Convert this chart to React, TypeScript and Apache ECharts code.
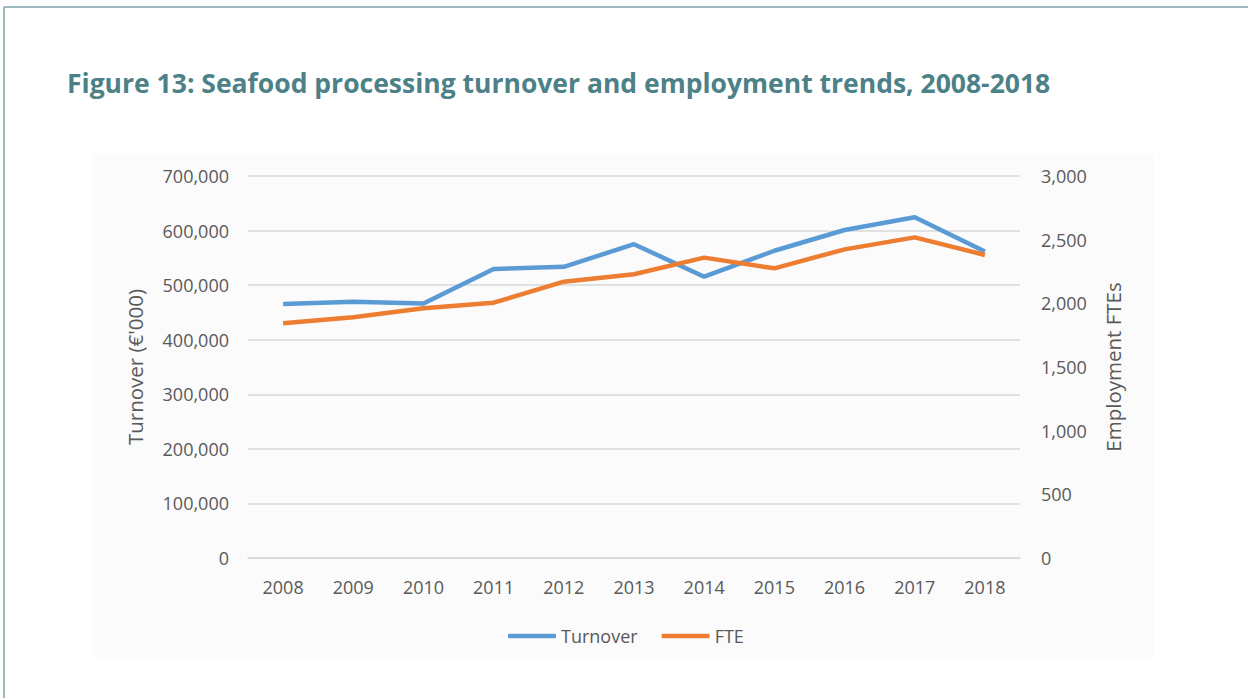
import React, { useEffect, useRef } from "react";
import * as echarts from "echarts";

const years = ["2008", "2009", "2010", "2011", "2012", "2013", "2014", "2015", "2016", "2017", "2018"];
const turnover = [465500, 469500, 466500, 529500, 533500, 575000, 515500, 563000, 601000, 624500, 561500];
const fte = [1843, 1890, 1961, 2005, 2170, 2228, 2359, 2275, 2424, 2518, 2380];

const TITLE = "Figure 13: Seafood processing turnover and employment trends, 2008-2018";
const fmt = (v: number) => v.toLocaleString("en-US");

export default function App() {
  const ref = useRef<HTMLDivElement>(null);
  useEffect(() => {
    const chart = echarts.init(ref.current!, null, { renderer: "svg" });
    const labelStyle = { color: "#595959", fontSize: 18, fontFamily: "Open Sans" };
    chart.setOption({
      animation: false,
      backgroundColor: "#ffffff",
      graphic: [
        { type: "rect", shape: { x: 92, y: 153, width: 1061, height: 504 }, style: { fill: "#fbfbfb" }, z: -10 },
        { type: "line", shape: { x1: 4, y1: 7, x2: 1248, y2: 7 }, style: { stroke: "#7fa3a6", lineWidth: 1.5 } },
        { type: "line", shape: { x1: 4, y1: 7, x2: 4, y2: 698 }, style: { stroke: "#7fa3a6", lineWidth: 1.5 } },
      ],
      title: {
        text: TITLE,
        left: 62,
        top: 64,
        textStyle: { color: "#4b8187", fontSize: 26.5, fontWeight: "bold", fontFamily: "Open Sans" },
      },
      grid: { left: 248, right: 228, top: 176, bottom: 140 },
      legend: {
        left: 503,
        top: 622,
        itemWidth: 48,
        itemHeight: 4.5,
        itemGap: 24,
        icon: "roundRect",
        textStyle: { color: "#595959", fontSize: 18, fontFamily: "Open Sans" },
        data: ["Turnover", "FTE"],
      },
      xAxis: {
        type: "category",
        data: years,
        boundaryGap: true,
        axisLine: { show: true, lineStyle: { color: "#d9d9d9", width: 1.5 } },
        axisTick: { show: false },
        axisLabel: { ...labelStyle, margin: 20 },
      },
      yAxis: [
        {
          type: "value",
          min: 0,
          max: 700000,
          interval: 100000,
          name: "Turnover (€'000)",
          nameLocation: "middle",
          nameGap: 103,
          nameTextStyle: { color: "#595959", fontSize: 20.5, fontFamily: "Open Sans" },
          axisLine: { show: false },
          axisTick: { show: false },
          axisLabel: { ...labelStyle, margin: 19, formatter: (v: number) => fmt(v) },
          splitLine: { lineStyle: { color: "#d9d9d9", width: 1.5 } },
        },
        {
          type: "value",
          min: 0,
          max: 3000,
          interval: 500,
          position: "right",
          name: "Employment FTEs",
          nameLocation: "middle",
          nameGap: 82,
          nameTextStyle: { color: "#595959", fontSize: 20.5, fontFamily: "Open Sans" },
          axisLine: { show: false },
          axisTick: { show: false },
          axisLabel: { ...labelStyle, margin: 21, formatter: (v: number) => fmt(v) },
          splitLine: { show: false },
        },
      ],
      series: [
        {
          name: "Turnover",
          type: "line",
          data: turnover,
          yAxisIndex: 0,
          symbol: "none",
          lineStyle: { width: 4.5, color: "#5b9bd5" },
          itemStyle: { color: "#5b9bd5" },
        },
        {
          name: "FTE",
          type: "line",
          data: fte,
          yAxisIndex: 1,
          symbol: "none",
          lineStyle: { width: 4.5, color: "#ed7d31" },
          itemStyle: { color: "#ed7d31" },
        },
      ],
    });
    return () => chart.dispose();
  }, []);
  return <div ref={ref} style={{ position: "fixed", left: 0, top: 0, width: 1248, height: 698 }} />;
}
